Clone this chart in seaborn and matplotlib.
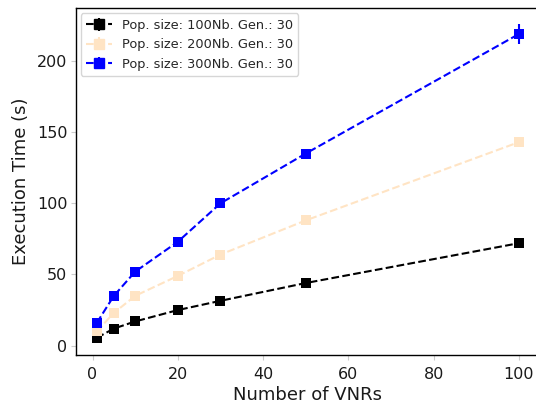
import pandas as pd
import matplotlib
matplotlib.use("Agg")
import matplotlib.pyplot as plt
import seaborn as sns

# Dados
vnrs = [1, 5, 10, 20, 30, 50, 100]
tempo_100 = [5.5, 12, 17, 25, 31.5, 44, 72]
tempo_200 = [10, 23, 35, 49, 64, 88, 143]
tempo_300 = [16, 35, 52, 73, 100, 135, 219]
erro_100 = [0.8, 1.0, 1.0, 1.2, 1.2, 1.5, 2.0]
erro_200 = [0.8, 1.0, 1.2, 1.5, 1.5, 2.0, 3.0]
erro_300 = [1.0, 1.5, 2.0, 2.0, 2.5, 3.0, 7.0]
rotulos = ["Pop. size: 100Nb. Gen.: 30",
           "Pop. size: 200Nb. Gen.: 30",
           "Pop. size: 300Nb. Gen.: 30"]
cores = ["black", "bisque", "blue"]

sns.set_style("white")
plt.rcParams['font.family'] = ['DejaVu Sans']

dados = pd.concat([
    pd.DataFrame({'vnrs': vnrs, 'tempo': t, 'serie': r})
    for t, r in zip([tempo_100, tempo_200, tempo_300], rotulos)
])

fig = plt.figure(figsize=(5.36, 4.04), dpi=100)
ax = fig.add_axes([75.7 / 536, 1 - 354.7 / 404, (540 - 75.7) / 536, (354.7 - 8.3) / 404])
sns.lineplot(data=dados, x='vnrs', y='tempo', hue='serie', palette=dict(zip(rotulos, cores)),
             marker='s', markersize=6.5, markeredgewidth=0, linestyle='--', linewidth=1.5,
             legend=False, ax=ax)

handles = []
for t, e, c, r in zip([tempo_100, tempo_200, tempo_300], [erro_100, erro_200, erro_300], cores, rotulos):
    ax.errorbar(vnrs, t, yerr=e, fmt='none', ecolor=c, elinewidth=1.5)
    h = ax.errorbar([], [], yerr=[], fmt='s--', color=c, markersize=6.5, linewidth=1.5,
                    elinewidth=1.5, label=r)
    handles.append(h)

for s in ax.spines.values():
    s.set_color('black')
    s.set_linewidth(1.0)
ax.tick_params(axis='x', pad=5)
ax.tick_params(axis='y', pad=2.5)
ax.tick_params(axis='both', which='major', labelsize=11.5, direction='out', length=3.5,
               bottom=True, left=True, color='#cccccc', labelcolor='#1a1a1a')
ax.set_xlabel('Number of VNRs', fontsize=13, color='#1a1a1a', labelpad=3)
ax.set_ylabel('Execution Time (s)', fontsize=13, color='#1a1a1a', labelpad=5)
ax.legend(handles=handles, labels=rotulos, loc='upper left', fontsize=9.3,
          handlelength=2.0, borderaxespad=0.4)

plt.savefig('out.png', dpi=100)
